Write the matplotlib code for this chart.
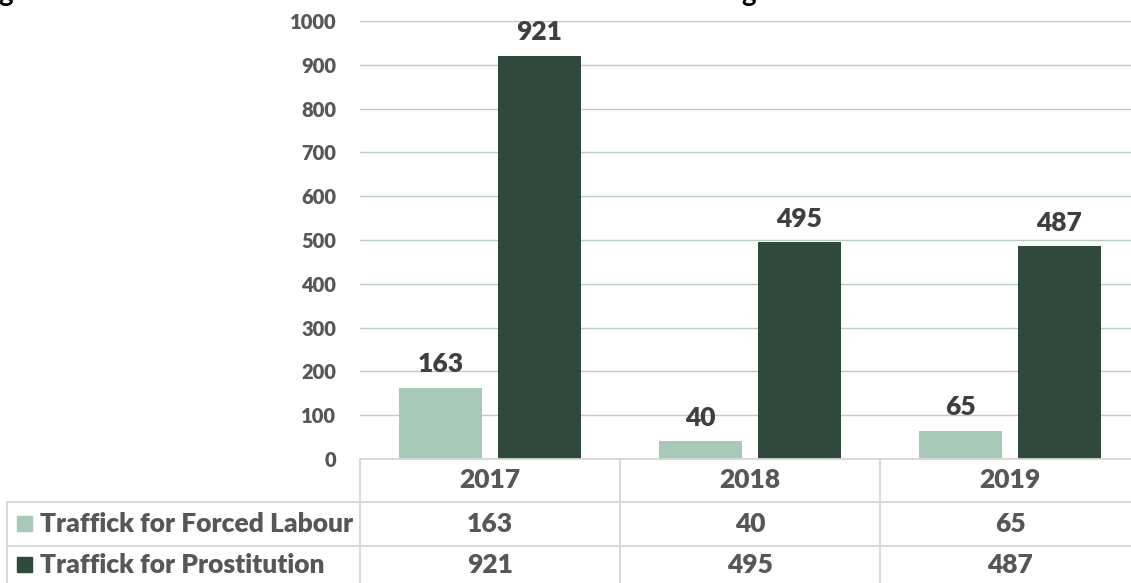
import matplotlib
matplotlib.use("Agg")
import matplotlib.pyplot as plt
import numpy as np

plt.rcParams['font.family'] = ['Lato', 'DejaVu Sans']

years = ['2017', '2018', '2019']
series_names = ['Traffick for Forced Labour', 'Traffick for Prostitution']
forced_labour = [163, 40, 65]
prostitution = [921, 495, 487]
y_ticks = [0, 100, 200, 300, 400, 500, 600, 700, 800, 900, 1000]

light = '#a8c9b8'
dark = '#2f4a3c'
grid_col = '#b5cfc3'
table_col = '#d6d6d6'
label_col = '#3f3f3f'
tick_col = '#575757'
weight = 'heavy'

W, H = 1131, 583
fig = plt.figure(figsize=(W / 100, H / 100), dpi=100)

# pixel helpers
def fx(px):
    return px / W

def fy(py):
    return 1 - py / H

left, right, top, base = 360, 1131, 21, 459
ax = fig.add_axes([fx(left), fy(base), fx(right - left), fy(top) - fy(base)])
ax.set_ylim(0, 1000)
ax.set_xlim(-0.5, -0.5 + (right - left) / 260)

x = np.arange(len(years))
w = 0.32
off = 0.19
b1 = ax.bar(x - off, forced_labour, w, color=light, zorder=3)
b2 = ax.bar(x + off, prostitution, w, color=dark, zorder=3)

for bars, vals in ((b1, forced_labour), (b2, prostitution)):
    for b, v in zip(bars, vals):
        ax.annotate(str(v), (b.get_x() + b.get_width() / 2, v),
                    xytext=(0, 8), textcoords='offset points',
                    ha='center', va='bottom', fontsize=19, fontweight=weight,
                    color=label_col, zorder=4)

ax.set_yticks(y_ticks)
ax.set_yticklabels([str(t) for t in y_ticks], fontsize=14.5, fontweight=weight, color=tick_col)
ax.tick_params(axis='y', length=0, pad=17)
ax.set_xticks([])
for t in y_ticks[1:]:
    ax.axhline(t, color=grid_col, lw=1, zorder=1)
for s in ax.spines.values():
    s.set_visible(False)

# data table under the chart, drawn in pixel units
ov = fig.add_axes([0, 0, 1, 1])
ov.set_xlim(0, W)
ov.set_ylim(H, 0)
ov.axis('off')
ov.patch.set_alpha(0)

col_edges = [left + 260 * i for i in range(len(years) + 1)]
row_edges = [base, 502, 546, H]
lc = dict(color=table_col, lw=1.3)
ov.plot([left, W], [base, base], **lc)
for yy in row_edges[1:3]:
    ov.plot([7, W], [yy, yy], **lc)
ov.plot([7, 7], [row_edges[1], H], **lc)
for xx in col_edges:
    ov.plot([xx, xx], [base, H], **lc)

tkw = dict(fontsize=19, fontweight=weight, color=tick_col, ha='center', va='center')
for i, yr in enumerate(years):
    cx = left + 130 + 260 * i
    ov.text(cx, 480, yr, **tkw)
    ov.text(cx, 524, str(forced_labour[i]), **tkw)
    ov.text(cx, 565, str(prostitution[i]), **tkw)

for name, col, cy in ((series_names[0], light, 524), (series_names[1], dark, 565)):
    ov.add_patch(plt.Rectangle((17, cy - 8), 15, 15, color=col))
    ov.text(40, cy, name, fontsize=19, fontweight=weight, color=tick_col, ha='left', va='center')

# title line clipped at the top edge
fig.text(fx(-2), fy(1), 'g', fontsize=20, fontweight='bold', color='black', va='baseline', ha='left')
fig.text(fx(741), fy(1), 'g', fontsize=20, fontweight='bold', color='black', va='baseline', ha='left')

fig.savefig('out.png', dpi=100)
